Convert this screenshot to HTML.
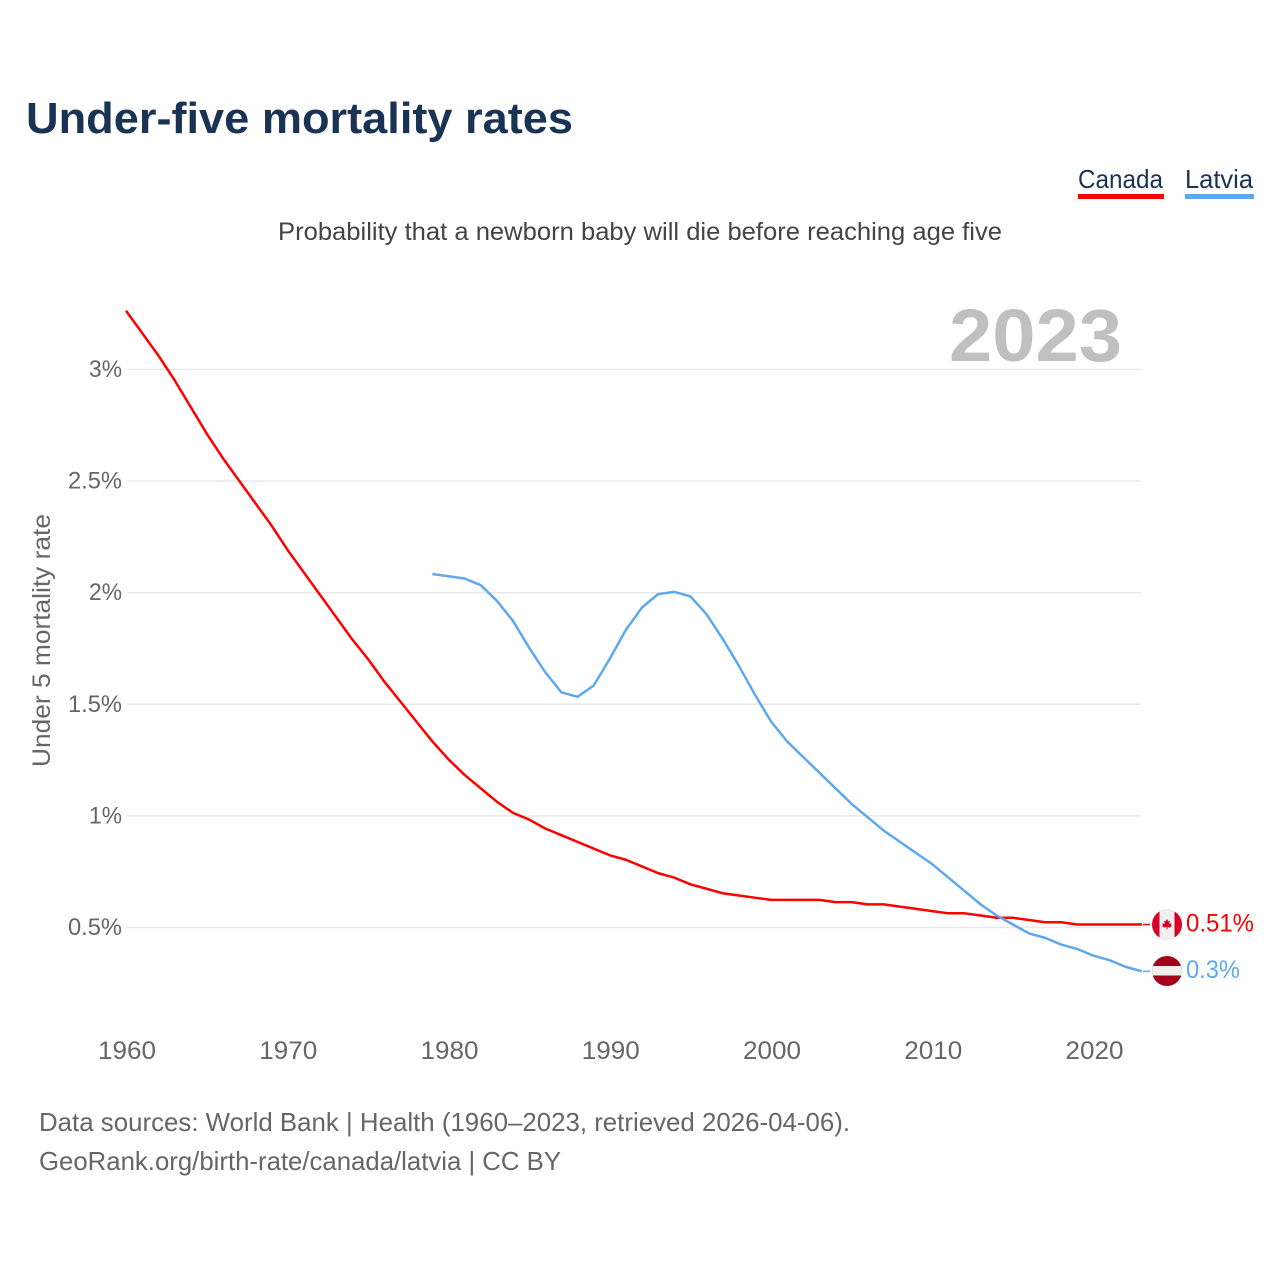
<!DOCTYPE html>
<html lang="en">
<head>
<meta charset="utf-8">
<title>Under-five mortality rates</title>
<style>
html,body{margin:0;padding:0;background:#fff;}
svg{display:block;font-family:"Liberation Sans",sans-serif;}
</style>
</head>
<body>
<svg id="chart" width="1280" height="1280" viewBox="0 0 1280 1280" xmlns="http://www.w3.org/2000/svg">
  <rect width="1280" height="1280" fill="#ffffff"/>
  <text x="26" y="133" font-size="44" font-weight="700" fill="#1a3354" textLength="547" lengthAdjust="spacingAndGlyphs">Under-five mortality rates</text>
  <text x="278" y="240" font-size="25" fill="#444444" textLength="724" lengthAdjust="spacingAndGlyphs">Probability that a newborn baby will die before reaching age five</text>

  <g>
    <text x="1078" y="188" font-size="26" fill="#1a3354" textLength="85" lengthAdjust="spacingAndGlyphs">Canada</text>
    <rect x="1078" y="194" width="86" height="5" fill="#ff0000"/>
  </g>
  <g>
    <text x="1185" y="188" font-size="26" fill="#1a3354" textLength="68" lengthAdjust="spacingAndGlyphs">Latvia</text>
    <rect x="1185" y="194" width="69" height="5" fill="#5fa8ee"/>
  </g>

  <text x="949" y="361" font-size="74" font-weight="700" fill="#c0c0c0" textLength="173" lengthAdjust="spacingAndGlyphs">2023</text>

  <g id="grid"></g>
  <g id="y-ticks"></g>
  <g id="x-ticks"></g>

  <text transform="translate(50,767) rotate(-90)" font-size="25" fill="#666666" textLength="253" lengthAdjust="spacingAndGlyphs">Under 5 mortality rate</text>

  <g id="series" transform="translate(0,-0.8)"></g>

  <g id="end-markers"></g>

  <g>
    <clipPath id="clip-ca"><circle cx="1167" cy="924.5" r="15"/></clipPath>
    <g clip-path="url(#clip-ca)">
      <rect x="1152" y="909" width="30" height="31" fill="#d80027"/>
      <rect x="1159.5" y="909" width="15" height="31" fill="#f0f0f0"/>
      <path d="M1167 919l1.3 2.4 1.6-.6-.6 3 2.4-.4-.7 1.8 1 .7-2.6 2-.4-.9-1.6.3v2.2h-.8v-2.2l-1.6-.3-.4.9-2.6-2 1-.7-.7-1.8 2.4.4-.6-3 1.6.6z" fill="#d80027"/>
    </g>
  </g>
  <g>
    <clipPath id="clip-lv"><circle cx="1167" cy="971" r="15"/></clipPath>
    <g clip-path="url(#clip-lv)">
      <rect x="1152" y="956" width="30" height="30" fill="#a2001d"/>
      <rect x="1152" y="966" width="30" height="9.5" fill="#f0f0f0"/>
    </g>
  </g>

  <text x="39" y="1131" font-size="26" fill="#666666" textLength="811" lengthAdjust="spacingAndGlyphs">Data sources: World Bank | Health (1960–2023, retrieved 2026-04-06).</text>
  <text x="39" y="1170" font-size="26" fill="#666666" textLength="522" lengthAdjust="spacingAndGlyphs">GeoRank.org/birth-rate/canada/latvia | CC BY</text>

  <script>
  <![CDATA[
  var yTickValues = [0.5, 1, 1.5, 2, 2.5, 3];
  var yTickLabels = ["0.5%", "1%", "1.5%", "2%", "2.5%", "3%"];
  var xTickYears = [1960, 1970, 1980, 1990, 2000, 2010, 2020];
  var canadaStartYear = 1960;
  var canadaValues = [3.26,3.16,3.06,2.95,2.83,2.71,2.60,2.50,2.40,2.30,2.19,2.09,1.99,1.89,1.79,1.70,1.60,1.51,1.42,1.33,1.25,1.18,1.12,1.06,1.01,0.98,0.94,0.91,0.88,0.85,0.82,0.80,0.77,0.74,0.72,0.69,0.67,0.65,0.64,0.63,0.62,0.62,0.62,0.62,0.61,0.61,0.60,0.60,0.59,0.58,0.57,0.56,0.56,0.55,0.54,0.54,0.53,0.52,0.52,0.51,0.51,0.51,0.51,0.51];
  var latviaStartYear = 1979;
  var latviaValues = [2.08,2.07,2.06,2.03,1.96,1.87,1.75,1.64,1.55,1.53,1.58,1.70,1.83,1.93,1.99,2.00,1.98,1.90,1.79,1.67,1.54,1.42,1.33,1.26,1.19,1.12,1.05,0.99,0.93,0.88,0.83,0.78,0.72,0.66,0.60,0.55,0.51,0.47,0.45,0.42,0.40,0.37,0.35,0.32,0.30];
  var canadaEndLabel = "0.51%";
  var latviaEndLabel = "0.3%";

  var SVG_NS = "http://www.w3.org/2000/svg";
  function xScale(year) { return 126 + (year - 1960) * 16.125; }
  function yScale(v) { return 369.5 + (3 - v) * 223.2; }
  function make(tag, parent, attrs) {
    var el = document.createElementNS(SVG_NS, tag);
    for (var k in attrs) { el.setAttribute(k, attrs[k]); }
    parent.appendChild(el);
    return el;
  }
  function linePoints(startYear, values) {
    return values.map(function (v, i) {
      return xScale(startYear + i).toFixed(2) + "," + yScale(v).toFixed(2);
    }).join(" ");
  }

  var grid = document.getElementById("grid");
  var yTicks = document.getElementById("y-ticks");
  var xTicks = document.getElementById("x-ticks");
  var series = document.getElementById("series");
  var endMarkers = document.getElementById("end-markers");

  yTickValues.forEach(function (v, i) {
    var ln = make("line", grid, { x1: 127, x2: 1141, y1: yScale(v), y2: yScale(v), stroke: "#e8e8e8", "stroke-width": 1.5 });
    
    
    var t = make("text", yTicks, { x: 122, y: yScale(v) + 7.5, "text-anchor": "end", "font-size": 24.5, fill: "#666666", textLength: yTickLabels[i].length > 2 ? 54 : 33, lengthAdjust: "spacingAndGlyphs" });
    
    
    t.textContent = yTickLabels[i];
  });

  xTickYears.forEach(function (yr) {
    var t = make("text", xTicks, { x: xScale(yr) + 1, y: 1059, "text-anchor": "middle", "font-size": 25, fill: "#666666", textLength: 58, lengthAdjust: "spacingAndGlyphs" });
    
    
    t.textContent = String(yr);
  });

  var canadaLine = make("polyline", series, { points: linePoints(canadaStartYear, canadaValues), fill: "none", stroke: "#ff0000", "stroke-width": 2.5, "stroke-linejoin": "round" });
  
  
  var latviaLine = make("polyline", series, { points: linePoints(latviaStartYear, latviaValues), fill: "none", stroke: "#5fa8ee", "stroke-width": 2.5, "stroke-linejoin": "round" });
  
  

  var canadaLastY = yScale(canadaValues[canadaValues.length - 1]) - 0.8;
  var latviaLastY = yScale(latviaValues[latviaValues.length - 1]) - 0.8;

  var canadaTail = make("line", endMarkers, { x1: 1143, x2: 1150, y1: canadaLastY, y2: canadaLastY, stroke: "#ff0000", "stroke-width": 1.5 });
  
  
  var latviaTail = make("line", endMarkers, { x1: 1143, x2: 1150, y1: latviaLastY, y2: latviaLastY, stroke: "#5fa8ee", "stroke-width": 1.5 });
  
  

  var canadaEnd = make("text", endMarkers, { x: 1186, y: canadaLastY + 6.8, "font-size": 25, fill: "#ff0000", textLength: 68, lengthAdjust: "spacingAndGlyphs" });
  
  
  canadaEnd.textContent = canadaEndLabel;
  var latviaEnd = make("text", endMarkers, { x: 1186, y: latviaLastY + 6.8, "font-size": 25, fill: "#5fa8ee", textLength: 54, lengthAdjust: "spacingAndGlyphs" });
  
  
  latviaEnd.textContent = latviaEndLabel;
  ]]>
  </script>
</svg>
</body>
</html>
